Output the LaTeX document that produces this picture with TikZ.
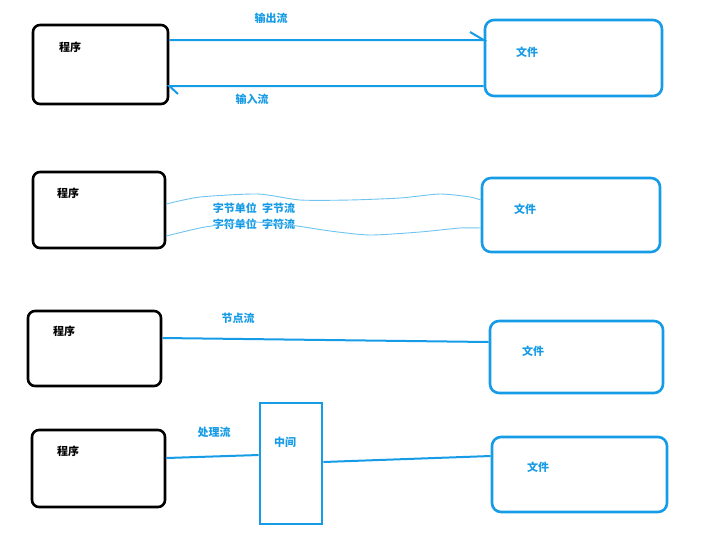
\documentclass[tikz,border=0pt]{standalone}
\usepackage{fontspec}
\setmainfont{Noto Sans CJK SC}
\newfontfamily\cjk{Noto Sans CJK SC}
\definecolor{sblue}{RGB}{22,155,230}
\definecolor{wblue}{RGB}{110,195,240}
\begin{document}
\begin{tikzpicture}[x=1pt,y=-1pt,
  prog/.style={draw=black,line width=2.6pt,rounded corners=7pt,inner sep=0pt},
  file/.style={draw=sblue,line width=2.6pt,rounded corners=9pt,inner sep=0pt},
  midbox/.style={draw=sblue,line width=2.6pt,inner sep=0pt},
  lbl/.style={font=\cjk\bfseries\fontsize{11}{12}\selectfont,text=sblue,inner sep=0pt},
  blbl/.style={font=\cjk\bfseries\fontsize{11}{12}\selectfont,text=black,inner sep=0pt},
  conn/.style={draw=sblue,line width=2pt},
  wave/.style={draw=wblue,line width=0.9pt}]
\useasboundingbox (0,0) rectangle (707,542);
% row 1
\node[prog,minimum width=135pt,minimum height=79pt] (p1) at (100.5,64.5) {};
\node[file,minimum width=177pt,minimum height=76pt] (f1) at (573.5,58) {};
\node[blbl] (tp1) at (70,47) {程序};
\node[lbl] (tf1) at (527,52) {文件};
\node[lbl] (out) at (271,18) {输出流};
\node[lbl] (in) at (252,99) {输入流};
\coordinate (a1s) at (p1.east |- 0,40);
\coordinate (a1e) at (f1.west |- 0,40);
\coordinate (a1h) at (470,32);
\draw[conn] (a1s) -- (a1e) -- (a1h);
\coordinate (a2s) at (f1.west |- 0,86);
\coordinate (a2e) at (p1.east |- 0,86);
\coordinate (a2h) at (178,94);
\draw[conn] (a2s) -- (a2e) -- (a2h);
% row 2
\node[prog,minimum width=132pt,minimum height=76pt] (p2) at (99,210) {};
\node[file,minimum width=178pt,minimum height=74pt] (f2) at (571,215) {};
\node[blbl] (tp2) at (68,193) {程序};
\node[lbl] (tf2) at (525,209) {文件};
\node[lbl] (byte) at (254,208) {字节单位\ \ 字节流};
\node[lbl] (char) at (254,224) {字符单位\ \ 字符流};
\coordinate (w1s) at (p2.east |- 0,204);
\coordinate (w1e) at (f2.west |- 0,200);
\coordinate (w2s) at (p2.east |- 0,236);
\coordinate (w2e) at (f2.west |- 0,228);
\draw[wave] plot[smooth,tension=0.4] coordinates {(w1s) (200,197) (258,194) (300,200) (350,200) (400,198) (440,194) (470,197) (w1e)};
\draw[wave] plot[smooth,tension=0.4] coordinates {(w2s) (205,227) (250,222) (290,225) (330,231) (370,235) (420,232) (460,228) (w2e)};
% row 3
\node[prog,minimum width=133pt,minimum height=75pt] (p3) at (94.5,348.5) {};
\node[file,minimum width=173pt,minimum height=72pt] (f3) at (576.5,357) {};
\node[blbl] (tp3) at (64,331) {程序};
\node[lbl] (tf3) at (533,351) {文件};
\node[lbl] (node) at (238,318) {节点流};
\coordinate (c3s) at (p3.east |- 0,338);
\coordinate (c3e) at (f3.west |- 0,342);
\draw[conn] (c3s) -- (c3e);
% row 4
\node[prog,minimum width=133pt,minimum height=77pt] (p4) at (98.5,468.5) {};
\node[midbox,minimum width=62pt,minimum height=121pt] (m4) at (291,463.5) {};
\node[file,minimum width=175pt,minimum height=75pt] (f4) at (579.5,474.5) {};
\node[blbl] (tp4) at (68,451) {程序};
\node[lbl] (tm4) at (285,442) {中间};
\node[lbl] (tf4) at (538,467) {文件};
\node[lbl] (proc) at (214,432) {处理流};
\coordinate (c4s) at (p4.east |- 0,458);
\coordinate (c4e) at (m4.west |- 0,455);
\draw[conn] (c4s) -- (c4e);
\coordinate (c5s) at (m4.east |- 0,462);
\coordinate (c5e) at (f4.west |- 0,456);
\draw[conn] (c5s) -- (c5e);
\end{tikzpicture}
\end{document}
